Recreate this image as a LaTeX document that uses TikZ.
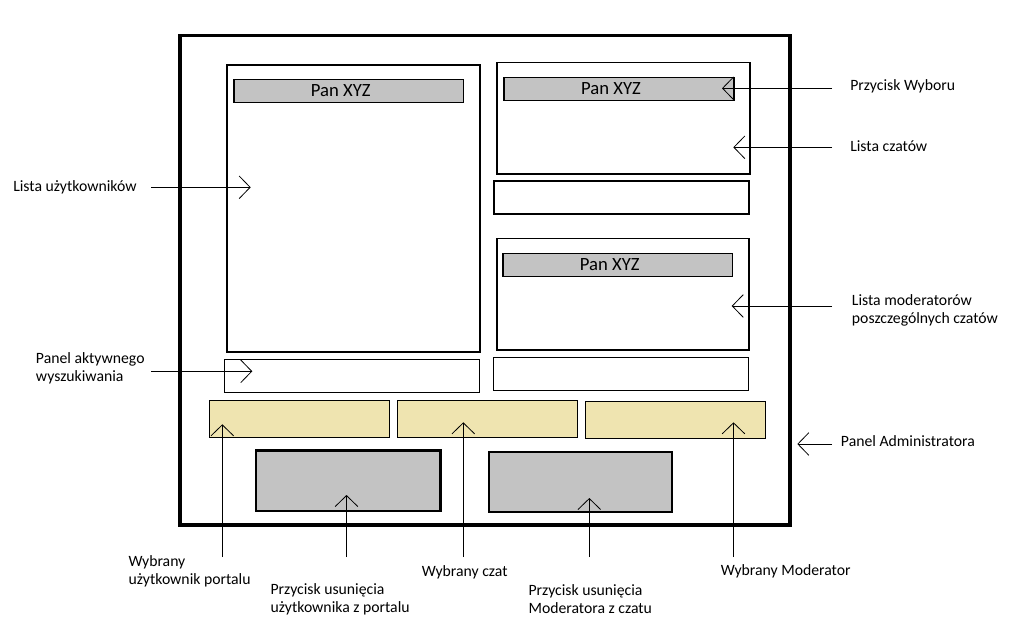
\documentclass[tikz,border=0pt]{standalone}
\usepackage{fontspec}
\setmainfont{Carlito}
\usetikzlibrary{fit,arrows.meta}
\definecolor{panelyellow}{RGB}{239,228,176}
\definecolor{bargray}{RGB}{195,195,195}
\begin{document}
\begin{tikzpicture}[x=0.75pt,y=-0.75pt,
  frame/.style={draw=black,line width=2.7pt,inner sep=0pt},
  box/.style={draw=black,line width=0.85pt,inner sep=0pt},
  bar/.style={draw=black,fill=bargray,line width=1.1pt,inner sep=0pt},
  delbox/.style={draw=black,fill=bargray,line width=1.9pt,inner sep=0pt},
  ybox/.style={draw=black,fill=panelyellow,line width=0.9pt,inner sep=0pt},
  lbl/.style={anchor=base west,inner sep=0pt,align=left,font=\fontsize{11.8}{13.5}\selectfont},
  bartext/.style={font=\fontsize{14}{16}\selectfont,xshift=-6pt},
  conn/.style={line width=0.75pt,-{Straight Barb[length=8.25pt,width=17pt,line width=0.6pt]}}]
\useasboundingbox (0,0) rectangle (1021,639);
% frame
\node[frame,fit={(180,35.5)(790,525)}] (admin) {};
% left list
\node[box,fit={(227,65)(480,352)}] (users) {};
\node[bar,fit={(234,79.3)(463.5,102.3)},label={[bartext]center:Pan XYZ}] (ubar) {};
% right top list
\node[box,fit={(497,62.3)(750,174)}] (chats) {};
\node[bar,fit={(504,77.3)(734,100.3)},label={[bartext]center:Pan XYZ}] (cbar) {};
\node[box,fit={(494,181)(749,214)}] (cfield) {};
% moderators
\node[box,fit={(497,238.3)(749,350)}] (mods) {};
\node[bar,fit={(503,253.3)(732.5,276.3)},label={[bartext]center:Pan XYZ}] (mbar) {};
% search panels
\node[box,fit={(224.3,359.3)(479.3,392.3)}] (search) {};
\node[box,fit={(493.3,357.3)(748.7,390.3)}] (mfield) {};
% yellow panels
\node[ybox,fit={(209.3,400.3)(389.7,437.3)}] (yuser) {};
\node[ybox,fit={(397.3,400.3)(577.7,437.3)}] (ychat) {};
\node[ybox,fit={(585.3,401.3)(765.7,438.7)}] (ymod) {};
% delete buttons
\node[delbox,fit={(256,450.7)(440.7,511)}] (deluser) {};
\node[delbox,fit={(489,452)(672,512)}] (delmod) {};

% labels (base = last line)
\node[lbl] (lUsers) at (13,191) {Lista użytkowników};
\node[lbl] (lSearch) at (35.7,381.7) {Panel aktywnego\\wyszukiwania};
\node[lbl] (lSel) at (850,90.7) {Przycisk Wyboru};
\node[lbl] (lChats) at (850,151.3) {Lista czatów};
\node[lbl] (lMods) at (851.7,323.3) {Lista moderatorów\\poszczególnych czatów};
\node[lbl] (lAdmin) at (840.7,446.7) {Panel Administratora};
\node[lbl] (lSelUser) at (128.3,584) {Wybrany\\użytkownik portalu};
\node[lbl] (lDelUser) at (270.3,612) {Przycisk usunięcia\\użytkownika z portalu};
\node[lbl] (lSelChat) at (421.7,576.7) {Wybrany czat};
\node[lbl] (lDelMod) at (528.3,613) {Przycisk usunięcia\\Moderatora z czatu};
\node[lbl] (lSelMod) at (720.7,575) {Wybrany Moderator};

% connector coordinates
\coordinate (sUsers) at (151,187.3);   \coordinate (tUsers) at (250.7,187.3);
\coordinate (sSearch) at (151,371.3);  \coordinate (tSearch) at (252.3,371.3);
\coordinate (sSel) at (832,88.3);      \coordinate (tSel) at (722,88.3);
\coordinate (sChats) at (832,147.3);   \coordinate (tChats) at (733.3,147.3);
\coordinate (sMods) at (832,306);      \coordinate (tMods) at (731.7,306);
\coordinate (sAdmin) at (832,444);     \coordinate (tAdmin) at (797.3,444);
\coordinate (sSelUser) at (222.3,557); \coordinate (tSelUser) at (222.3,424.3);
\coordinate (sDelUser) at (346.5,557); \coordinate (tDelUser) at (346.5,495);
\coordinate (sSelChat) at (463.3,557); \coordinate (tSelChat) at (463.3,422.3);
\coordinate (sDelMod) at (589.3,557);  \coordinate (tDelMod) at (589.3,498);
\coordinate (sSelMod) at (733.5,557);  \coordinate (tSelMod) at (733.5,422.3);

\draw[conn] (sUsers) -- (tUsers);
\draw[conn] (sSearch) -- (tSearch);
\draw[conn] (sSel) -- (tSel);
\draw[conn] (sChats) -- (tChats);
\draw[conn] (sMods) -- (tMods);
\draw[conn] (sAdmin) -- (tAdmin);
\draw[conn] (sSelUser) -- (tSelUser);
\draw[conn] (sDelUser) -- (tDelUser);
\draw[conn] (sSelChat) -- (tSelChat);
\draw[conn] (sDelMod) -- (tDelMod);
\draw[conn] (sSelMod) -- (tSelMod);
\end{tikzpicture}
\end{document}
